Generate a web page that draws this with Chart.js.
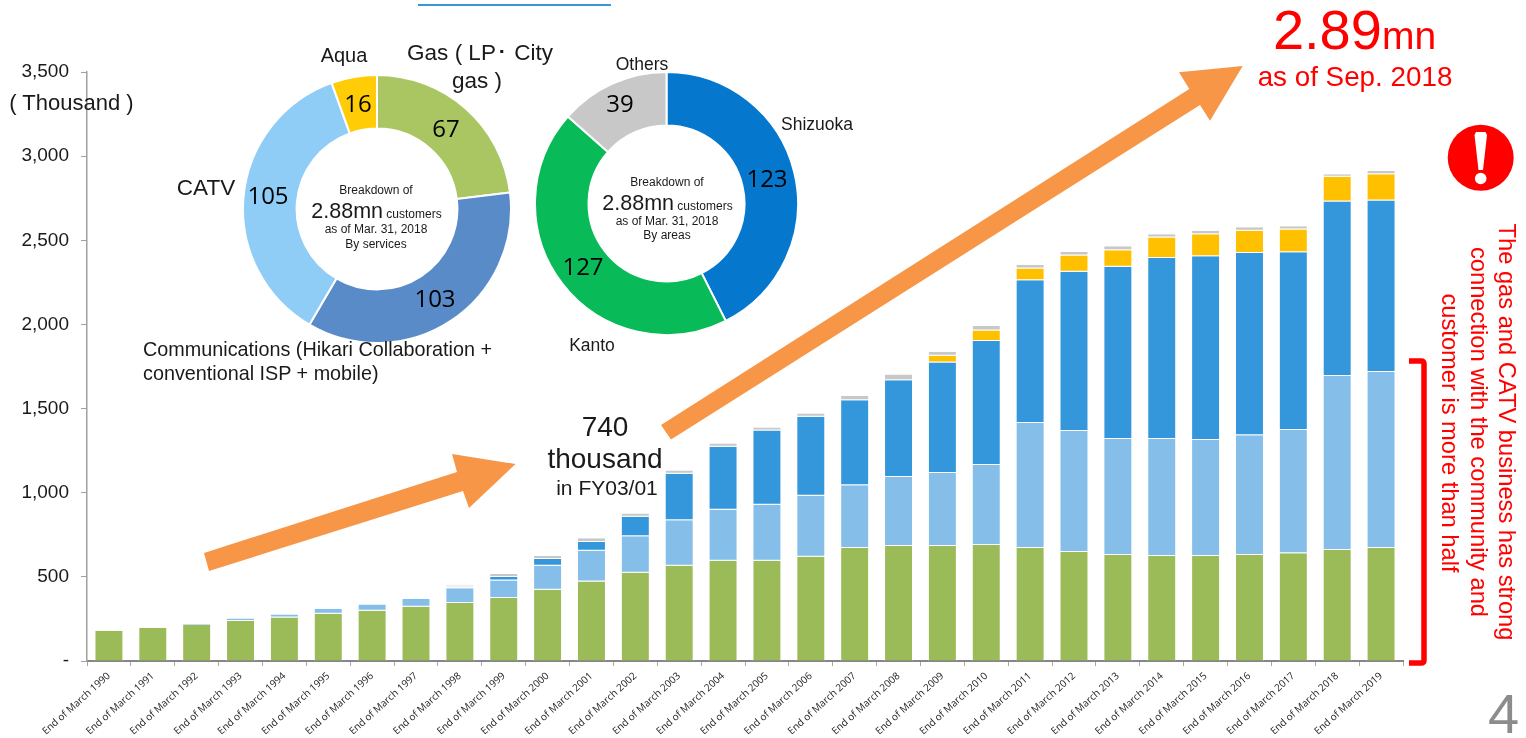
<!DOCTYPE html>
<html>
<head>
<meta charset="utf-8">
<title>Customer base</title>
<script src="https://cdn.jsdelivr.net/npm/chart.js@4"></script>
<style>
  html, body { margin: 0; padding: 0; background: #fff; width: 1526px; height: 738px; overflow: hidden; }
  #stage { position: relative; width: 1526px; height: 738px; }
  canvas { position: absolute; display: block; }
  svg { position: absolute; left: 0; top: 0; pointer-events: none; }
  svg text { font-family: "Liberation Sans", Arial, sans-serif; fill: #1a1a1a; }
</style>
</head>
<body>
<div id="stage">
  <canvas id="bars" width="1526" height="738" style="left:0;top:0"></canvas>
  <canvas id="services"></canvas>
  <canvas id="areas"></canvas>
  <svg id="notes" width="1526" height="738" viewBox="0 0 1526 738"></svg>
</div>
<script>
// Customer counts in thousands, fiscal year-ends 1990 to 2019
const categories = ["End of March 1990","End of March 1991","End of March 1992","End of March 1993","End of March 1994","End of March 1995","End of March 1996","End of March 1997","End of March 1998","End of March 1999","End of March 2000","End of March 2001","End of March 2002","End of March 2003","End of March 2004","End of March 2005","End of March 2006","End of March 2007","End of March 2008","End of March 2009","End of March 2010","End of March 2011","End of March 2012","End of March 2013","End of March 2014","End of March 2015","End of March 2016","End of March 2017","End of March 2018","End of March 2019"];
const gas    = [180,198,214,238,259,281,299,322,344,375,423,472,524,566,595,596,620,671,683,683,689,671,647,630,624,624,630,641,659,671];
const catv   = [0,0,6,15,18,28,36,46,88,104,143,183,217,270,304,332,362,374,410,434,475,743,719,689,695,689,712,731,1034,1046];
const comms  = [0,0,0,0,0,0,0,0,0,20,40,52,116,277,374,442,469,505,576,657,738,849,947,1023,1076,1092,1083,1057,1037,1019];
const aqua   = [0,0,0,0,0,0,0,0,0,0,0,0,0,0,0,0,0,0,0,40,62,69,97,99,121,131,131,135,147,157];
const others = [0,0,0,0,0,0,0,0,23,18,18,22,20,19,20,18,20,24,34,23,26,22,21,24,20,20,22,20,16,18];
const yTicks = [0,500,1000,1500,2000,2500,3000,3500];

// Breakdown rings, as of 31 March 2018
const serviceNames = ["Gas","Communications","CATV","Aqua"];
const serviceValues = [67,103,105,16];
const serviceColors = ["#A9C663","#5A8BC9","#8FCDF7","#FFCC05"];
const areaNames = ["Shizuoka","Kanto","Others"];
const areaValues = [123,127,39];
const areaColors = ["#0578CE","#09BB58","#C8C8C8"];

const barEdge = { top: 0, right: 1, bottom: 1, left: 1 };
const greenEdge = { top: 0, right: 1, bottom: 0, left: 1 };
function series(label, data, color, edge) {
  return { label, data, backgroundColor: color, borderColor: "#fff", borderWidth: edge,
           borderSkipped: false, barPercentage: 0.66, categoryPercentage: 1, stack: "all" };
}

new Chart(document.getElementById("bars"), {
  type: "bar",
  data: {
    labels: categories,
    datasets: [
      series("Gas", gas, "#9BBB59", greenEdge),
      series("CATV", catv, "#85BFE9", barEdge),
      series("Communications", comms, "#3597DB", barEdge),
      series("Aqua", aqua, "#FFC000", barEdge),
      // The earliest "others" entry is only a hairline, so it is tinted paler
      series("Others", others, ctx => ctx.dataIndex === 8 ? "#EFEFEF" : "#C8C8C8", barEdge)
    ]
  },
  options: {
    responsive: false,
    animation: false,
    layout: { padding: { left: 0, top: 72, right: 123, bottom: 0 } },
    plugins: { legend: { display: false }, tooltip: { enabled: false } },
    scales: {
      x: {
        stacked: true,
        z: 1,
        afterFit: s => { s.height = 77; },
        border: { color: "#868686", width: 2 },
        grid: { drawOnChartArea: false, color: "#A6A6A6", tickLength: 5, tickWidth: 1 },
        ticks: { autoSkip: false, minRotation: 42, maxRotation: 42, color: "#222",
                 font: { family: "'Open Sans'", size: 10 }, padding: 4 }
      },
      y: {
        stacked: true,
        min: 0,
        max: 3500,
        afterFit: s => { s.width = 87; },
        afterBuildTicks: s => { s.ticks = yTicks.map(value => ({ value })); },
        border: { color: "#A0A0A0", width: 1.5 },
        grid: { drawOnChartArea: false, color: "#A0A0A0", tickLength: 6 },
        ticks: { color: "#1a1a1a", padding: 12, font: { family: "'Liberation Sans'", size: 19 },
                 callback: v => v === 0 ? "-" : v.toLocaleString("en-US") }
      }
    }
  }
});

// Ring charts sit in their own square canvases
function ring(id, cx, cy, size, cutout, values, names, colors) {
  const el = document.getElementById(id);
  el.width = size; el.height = size;
  el.style.left = (cx - size / 2) + "px";
  el.style.top = (cy - size / 2) + "px";
  new Chart(el, {
    type: "doughnut",
    data: { labels: names, datasets: [{ data: values, backgroundColor: colors, borderColor: "#fff", borderWidth: 2 }] },
    options: { responsive: false, animation: false, cutout, layout: { padding: 0 },
               plugins: { legend: { display: false }, tooltip: { enabled: false } } }
  });
}
ring("services", 377, 208.5, 270, "60%", serviceValues, serviceNames, serviceColors);
ring("areas", 666, 203.7, 265, "59.3%", areaValues, areaNames, areaColors);

// Text and callout shapes
const NS = "http://www.w3.org/2000/svg";
const svg = document.getElementById("notes");
function shape(tag, attrs) {
  const e = document.createElementNS(NS, tag);
  for (const k in attrs) e.setAttribute(k, attrs[k]);
  svg.appendChild(e);
  return e;
}
function text(str, x, y, size, opts = {}) {
  const e = shape("text", { x, y, "font-size": size, "text-anchor": opts.anchor || "middle" });
  if (opts.color) e.style.fill = opts.color;
  if (opts.family) e.style.fontFamily = opts.family;
  if (opts.rotate) e.setAttribute("transform", `rotate(${opts.rotate} ${x} ${y})`);
  e.textContent = str;
  return e;
}
function mixed(parts, x, y) {
  const e = shape("text", { x, y, "text-anchor": "middle" });
  for (const [str, size] of parts) {
    const t = document.createElementNS(NS, "tspan");
    t.setAttribute("font-size", size);
    t.textContent = str;
    e.appendChild(t);
  }
  return e;
}

shape("rect", { x: 418, y: 4, width: 193, height: 2, fill: "#3498DB" });

shape("polygon", { fill: "#F79646", points: "204,553 457,472 452,454 515.5,464 469,508 463,491 209,571" });
shape("polygon", { fill: "#F79646", points: "661,425 1189.3,89 1179,72.3 1242.7,66 1210,120.7 1200,105 671,439.5" });

const red = "#FF0000";
mixed([["2.89", 56], ["mn", 39]], 1354.5, 48.5).style.fill = red;
text("as of Sep. 2018", 1355, 86, 27.8, { color: red });
text("740", 605, 436, 28);
text("thousand", 605, 468, 28);
text("in FY03/01", 607, 495, 21);

text("( Thousand )", 71.5, 110, 22);
text("Aqua", 344, 62, 20);
text("Gas ( LP･ City", 480, 60, 22.5);
text("gas )", 477, 88, 22.5);
text("CATV", 206, 195, 22.5);
text("Communications (Hikari Collaboration +", 143, 356, 19.8, { anchor: "start" });
text("conventional ISP + mobile)", 143, 380, 19.8, { anchor: "start" });
text("Others", 642, 70, 17.5);
text("Shizuoka", 817, 130, 17.5);
text("Kanto", 592, 351, 17.5);

// Ring values come straight from the series arrays
const numberFont = "'Open Sans'";
const servicePlaces = [[446, 137], [435, 306.5], [268, 204], [358, 112]];
const areaPlaces = [[767, 187], [583, 275], [620, 112]];
serviceValues.forEach((v, i) => text(String(v), servicePlaces[i][0], servicePlaces[i][1], 24, { family: numberFont, color: "#000" }));
areaValues.forEach((v, i) => text(String(v), areaPlaces[i][0], areaPlaces[i][1], 24, { family: numberFont, color: "#000" }));

text("Breakdown of", 376, 194, 12);
mixed([["2.88mn", 21.5], ["  customers", 12]], 376.5, 218);
text("as of Mar. 31, 2018", 376, 233, 12);
text("By services", 376, 248, 12);
text("Breakdown of", 667, 186, 12);
mixed([["2.88mn", 21.5], ["  customers", 12]], 667.5, 210);
text("as of Mar. 31, 2018", 667, 225, 12);
text("By areas", 667, 239, 12);

// Alert badge
shape("circle", { cx: 1480.7, cy: 157.7, r: 33, fill: red });
shape("polygon", { fill: "#fff", points: "1474.5,135 1476,132 1485.5,132 1487,135 1483,170 1478.5,170" });
shape("circle", { cx: 1480.7, cy: 178.5, r: 5.8, fill: "#fff" });

// Bracket spanning the gas and CATV segments
shape("path", { d: "M1409 361 H1421 Q1424 361 1424 364 V660 Q1424 663 1421 663 H1409", fill: "none", stroke: red, "stroke-width": 5.5 });

text("The gas and CATV business has strong", 1499, 432, 23.7, { color: red, rotate: 90 });
text("connection with the community and", 1471, 432, 23.7, { color: red, rotate: 90 });
text("customer is more than half", 1442, 433, 23.7, { color: red, rotate: 90 });

text("4", 1503.5, 733, 56, { color: "#8C8C8C" });
</script>
</body>
</html>
